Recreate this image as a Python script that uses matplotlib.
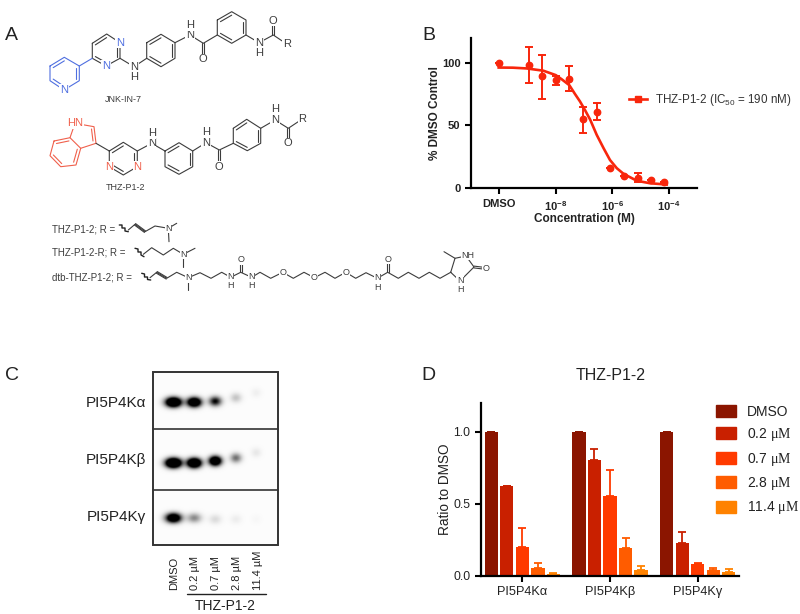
import numpy as np
import matplotlib
matplotlib.use("Agg")
import matplotlib.pyplot as plt
from matplotlib.lines import Line2D
from matplotlib.patches import Patch, Rectangle

plt.rcParams['font.family'] = ['Liberation Sans', 'DejaVu Sans']
plt.rcParams['mathtext.fontset'] = 'custom'
plt.rcParams['mathtext.rm'] = 'Liberation Sans'
plt.rcParams['mathtext.bf'] = 'Liberation Sans:bold'
plt.rcParams['mathtext.it'] = 'Liberation Serif'
plt.rcParams['mathtext.default'] = 'regular'

# panel B
dose_exp = [-10, -8.96, -8.47, -8, -7.52, -7.04, -6.55, -6.07, -5.6, -5.1, -4.64, -4.16]
dose_mean = [100, 98, 89, 86, 87, 55, 61, 16, 9.5, 8, 6.5, 5]
dose_low = [100, 84, 71, 82, 77, 44, 54, 16, 9.5, 5, 6.5, 5]
dose_high = [100, 112, 106, 89, 97, 65, 68, 16, 9.5, 12, 6.5, 5]
curve_exp = [-10.02, -9.52, -9.03, -8.44, -8, -7.79, -7.52, -7.32, -7.14, -6.96, -6.78,
             -6.55, -6.31, -6.08, -5.84, -5.6, -5.13, -4.66, -4.07]
curve_val = [96, 95.9, 95.3, 93.5, 90, 86.7, 82, 75, 69, 62, 54.5,
             42.5, 32, 22.5, 16, 11.5, 6, 4, 3]

# panel C
lane_names = ['DMSO', '0.2 µM', '0.7 µM', '2.8 µM', '11.4 µM']
blot_names = ['PI5P4Kα', 'PI5P4Kβ', 'PI5P4Kγ']
blot_dark = [[2.2, 1.9, 1.0, 0.22, 0.05],
             [2.4, 2.2, 1.9, 0.55, 0.08],
             [1.7, 0.45, 0.13, 0.06, 0.02]]

# panel D
kinases = ['PI5P4Kα', 'PI5P4Kβ', 'PI5P4Kγ']
conc_labels = ['DMSO', r'0.2 $\mathit{\mu M}$', r'0.7 $\mathit{\mu M}$',
               r'2.8 $\mathit{\mu M}$', r'11.4 $\mathit{\mu M}$']
conc_colors = ['#8B1500', '#C92000', '#FF3A00', '#FF5C00', '#FF8200']
ratio_means = [[1.0, 1.0, 1.0],
               [0.62, 0.80, 0.225],
               [0.20, 0.555, 0.08],
               [0.05, 0.195, 0.04],
               [0.015, 0.04, 0.025]]
ratio_errs = [[0, 0, 0],
              [0.005, 0.08, 0.075],
              [0.13, 0.175, 0.01],
              [0.035, 0.065, 0.015],
              [0.002, 0.025, 0.02]]

W, H = 800, 614
fig = plt.figure(figsize=(8, 6.14), dpi=100)


def px_axes(l, t, r, b):
    return fig.add_axes([l / W, 1 - b / H, (r - l) / W, (b - t) / H])


# overlay in image pixels for the drawn panels
ov = fig.add_axes([0, 0, 1, 1])
ov.axis('off')

GREY = '#3c3c3c'
BLUE = '#4f6fe0'
RED = '#f0604c'


def chain(pts, c=GREY, lw=0.8):
    xs, ys = zip(*pts)
    ov.plot(xs, ys, color=c, lw=lw, solid_capstyle='round', zorder=2)


def ring(pts, doubles, c=GREY):
    chain(list(pts) + [pts[0]], c)
    cx = np.mean([p[0] for p in pts])
    cy = np.mean([p[1] for p in pts])
    for i in doubles:
        a, b = pts[i], pts[(i + 1) % len(pts)]
        a2 = (cx + (a[0] - cx) * 0.78, cy + (a[1] - cy) * 0.78)
        b2 = (cx + (b[0] - cx) * 0.78, cy + (b[1] - cy) * 0.78)
        chain([a2, b2], c)


def dbl(a, b, c=GREY, off=1.1):
    dx, dy = b[0] - a[0], b[1] - a[1]
    n = np.hypot(dx, dy)
    ox, oy = -dy / n * off, dx / n * off
    chain([(a[0] + ox, a[1] + oy), (b[0] + ox, b[1] + oy)], c)
    chain([(a[0] - ox, a[1] - oy), (b[0] - ox, b[1] - oy)], c)


def atom(x, y, s, c=GREY, size=8):
    ov.text(x, y, s, color=c, fontsize=size, ha='center', va='center', zorder=3,
            bbox=dict(facecolor='white', edgecolor='none', pad=0.4))


# JNK-IN-7
ring([(50, 66), (64.3, 57.3), (79.3, 66), (79.3, 80.7), (64, 90), (50, 80.7)], [0, 2, 4], BLUE)
atom(64, 90, 'N', BLUE)
ring([(92.3, 43.3), (106.7, 34), (120, 42.7), (120, 58.3), (106, 66), (92.3, 58.3)], [0, 2, 4])
atom(120, 42.7, 'N', BLUE)
atom(106, 66, 'N', BLUE)
chain([(79.3, 66), (92.3, 58.3)], BLUE)
chain([(120, 58.3), (134, 66.7), (146.7, 58.3)])
atom(134, 66.7, 'N')
atom(134, 76.5, 'H')
ring([(146.7, 42.7), (161, 34.3), (175, 42.7), (175, 58.3), (161, 66.7), (146.7, 58.3)], [0, 2, 4])
chain([(175, 42.7), (190, 35), (203.3, 43.3), (217.3, 35)])
atom(190, 35, 'N')
atom(190, 25, 'H')
dbl((203.3, 43.3), (203.3, 56))
atom(203.3, 59.5, 'O')
ring([(217.3, 20), (231.7, 11.7), (246, 20), (246, 35), (231.7, 43.3), (217.3, 35)], [0, 2, 4])
chain([(246, 35), (259, 42.7), (273.3, 35), (286.7, 44)])
atom(259, 42.7, 'N')
atom(259, 53, 'H')
dbl((273.3, 35), (273.3, 24))
atom(273.3, 20.5, 'O')
atom(286.7, 44.3, 'R')
ov.text(123.3, 99.3, 'JNK-IN-7', fontsize=6.5, color=GREY, ha='center', va='center')

# THZ-P1-2
ring([(54, 141), (70, 137.7), (80.7, 148.3), (76, 165), (60.7, 166.7), (50, 155.7)], [0, 2, 4], RED)
chain([(70, 137.7), (75, 123.3), (94, 126.7), (96, 143.3), (80.7, 148.3)], RED)
chain([(91.5, 129), (93, 141)], RED)
atom(75, 123.3, 'HN', RED)
chain([(96, 143.3), (109.3, 151)])
ring([(109.3, 151), (123.3, 142.3), (137.3, 151), (137.3, 166.7), (123.3, 175), (109.3, 166.7)], [0, 2, 4])
atom(137.3, 166.7, 'N', RED)
atom(109.3, 166.7, 'N', RED)
chain([(137.3, 151), (151.7, 143.3), (165, 151)])
atom(151.7, 143.3, 'N')
atom(151.7, 133.3, 'H')
ring([(165, 151), (179, 142.7), (192.7, 151), (192.7, 166.7), (179, 174.3), (165, 166.7)], [0, 2, 4])
chain([(192.7, 151), (206, 142.7), (219.3, 150), (233.3, 143.3)])
atom(206, 142.7, 'N')
atom(206, 132.3, 'H')
dbl((219.3, 150), (219.3, 163))
atom(219.3, 166.7, 'O')
ring([(233.3, 128.3), (246.7, 119.3), (260.7, 128.3), (260.7, 143.3), (247.3, 150.7), (233.3, 143.3)], [0, 2, 4])
chain([(260.7, 128.3), (275, 120), (288.3, 128.3), (302.3, 119)])
atom(275, 120, 'N')
atom(275, 109.3, 'H')
dbl((288.3, 128.3), (288.3, 140))
atom(288.3, 143.3, 'O')
atom(302.3, 119, 'R')
ov.text(125, 188, 'THZ-P1-2', fontsize=6.5, color=GREY, ha='center', va='center')

# R groups
ov.text(52, 229, 'THZ-P1-2; R =', fontsize=7, color=GREY, va='center')
ov.text(52, 252.7, 'THZ-P1-2-R; R =', fontsize=7, color=GREY, va='center')
ov.text(52, 277.7, 'dtb-THZ-P1-2; R =', fontsize=7, color=GREY, va='center')

chain([(119.3, 225), (122, 225), (122, 228), (125, 228), (125, 231), (128.3, 231.7)], '#222222', 1.0)
chain([(128.3, 230), (135, 224.3), (145, 231.7), (155, 226), (168.3, 228.3), (176.7, 223.3)])
dbl((135, 224.3), (145, 231.7), off=0.9)
chain([(168.3, 228.3), (169, 241.7)])
atom(168.3, 228.3, 'N', size=6.5)

chain([(135, 248.3), (138, 249), (138, 252), (141, 252), (141, 255), (144, 256.7)], '#222222', 1.0)
chain([(143.3, 254.3), (151.7, 247.7), (163.3, 255), (173.3, 248.3), (183.3, 254.3), (195, 248.3)])
chain([(183.3, 254.3), (183.3, 266.7)])
atom(183.3, 254.3, 'N', size=6.5)

chain([(141.7, 273.3), (144.5, 274), (144.5, 277), (147.5, 277), (147.5, 279.5), (150.7, 280)], '#222222', 1.0)
chain([(150, 277.7), (156.7, 272.3), (166.7, 278.3), (176.7, 272.3), (188.3, 277.7), (200, 272.7),
       (211, 278.3), (221.7, 272.3), (230.7, 277.3), (240.7, 272.3), (251.7, 277.3), (260, 272.3),
       (270.7, 278.3), (282.7, 272.3), (293.3, 278.3), (304, 272.3), (314.3, 277.7), (325, 272.3),
       (335, 278.3), (345.7, 272.3), (355.7, 278.3), (366, 272.7), (377.3, 278.3), (387.7, 272.3),
       (398.3, 278.3), (408.3, 272.3), (419, 278.3), (429.3, 272.3), (440, 278.3), (450.7, 272.3)])
dbl((156.7, 272.3), (166.7, 278.3), off=0.9)
chain([(188.3, 277.7), (188.3, 290)])
dbl((240.7, 272.3), (240.7, 263), off=0.9)
dbl((387.7, 272.3), (387.7, 263), off=0.9)
for ax_, ay_, s_ in [(188.3, 277.7, 'N'), (230.7, 276.5, 'N'), (230.7, 286, 'H'), (251.7, 276.5, 'N'),
                     (251.7, 286, 'H'), (240.7, 260, 'O'), (282.7, 272.3, 'O'), (314.3, 277.7, 'O'),
                     (345.7, 272.3, 'O'), (377.3, 277.5, 'N'), (377.3, 287, 'H'), (387.7, 259.3, 'O')]:
    atom(ax_, ay_, s_, size=6.5)
chain([(450.7, 272.3), (455, 258.3), (466, 256), (474, 267), (460, 281), (450.7, 272.3)])
chain([(455, 258.3), (444, 251.7)])
dbl((474, 267), (482, 268), off=0.9)
atom(468, 255, 'NH', size=6.5)
atom(460, 280.5, 'N', size=6.5)
atom(460, 290, 'H', size=6.5)
atom(486, 268.5, 'O', size=6.5)

# panel C blot
lane_x = [173.3, 194, 215, 235.7, 256]
row_y = [[402, 402, 401, 397.5, 392.5],
         [462.7, 462.7, 460.7, 457.7, 452.3],
         [517.7, 517.7, 519, 519, 519]]
spot_w = [7.5, 6.8, 6, 5.5, 5]
gx, gy = np.meshgrid(np.arange(153, 278, 0.5), np.arange(372, 545, 0.5))
blot = np.full(gx.shape, 0.012)
for r in range(3):
    for k in range(5):
        blot += blot_dark[r][k] * np.exp(-((gx - lane_x[k]) / spot_w[k]) ** 2 - ((gy - row_y[r][k]) / 4.6) ** 2)
ov.imshow(np.clip(blot, 0, 1), cmap='gray_r', vmin=0, vmax=1, extent=(153.3, 277.7, 545, 372.3),
          aspect='auto', zorder=1, interpolation='bilinear')
ov.add_patch(Rectangle((153.3, 372.3), 124.4, 172.7, fill=False, ec='#333333', lw=1.4, zorder=3))
chain([(153.3, 428.7), (277.7, 428.7)], '#333333', 1.2)
chain([(153.3, 489.7), (277.7, 489.7)], '#333333', 1.2)
for name, yy in zip(blot_names, [402.7, 460, 516.7]):
    ov.text(145.7, yy, name, fontsize=11, color='#222222', ha='right', va='center')
for name, xx in zip(lane_names, [174, 195, 216, 237, 257.7]):
    ov.text(xx, 590, name, fontsize=8, color='#222222', rotation=90, ha='center', va='bottom')
chain([(187.3, 594.3), (266, 594.3)], '#222222', 1.0)
ov.text(225, 606.5, 'THZ-P1-2', fontsize=10, color='#222222', ha='center', va='center')

# panel letters
for s, xx, yy in [('A', 11, 35), ('B', 428.7, 35), ('C', 11.7, 375), ('D', 428, 375)]:
    ov.text(xx, yy, s, fontsize=14, color='#222222', ha='center', va='center')

ov.set_xlim(0, W)
ov.set_ylim(H, 0)

# panel B
red = '#F8260C'
axb = px_axes(471, 38, 697, 188.3)
axb.patch.set_alpha(0)
dose = 10.0 ** np.array(dose_exp)
axb.plot(10.0 ** np.array(curve_exp), curve_val, color=red, lw=1.9, zorder=3)
axb.errorbar(dose, dose_mean,
             yerr=[np.array(dose_mean) - np.array(dose_low), np.array(dose_high) - np.array(dose_mean)],
             fmt='o', color=red, ms=4.6, elinewidth=1.4, capsize=3, capthick=1.4, zorder=4)
axb.set_xscale('log')
axb.set_xlim(1e-11, 1e-3)
axb.set_ylim(0, 119.5)
axb.set_xticks([1e-10, 1e-8, 1e-6, 1e-4])
axb.set_xticklabels(['DMSO', r'$\mathbf{10^{-8}}$', r'$\mathbf{10^{-6}}$', r'$\mathbf{10^{-4}}$'],
                    fontsize=8, fontweight='bold', color='#222222')
axb.minorticks_off()
axb.set_yticks([0, 50, 100])
axb.set_yticklabels(['0', '50', '100'], fontsize=8, fontweight='bold', color='#222222')
axb.set_ylabel('% DMSO Control', fontsize=8.5, fontweight='bold', color='#222222', labelpad=0.5)
axb.set_xlabel('Concentration (M)', fontsize=8.5, fontweight='bold', color='#222222', labelpad=0)
axb.spines[['top', 'right']].set_visible(False)
axb.spines[['left', 'bottom']].set_linewidth(1.6)
axb.tick_params(width=1.5, length=4.5, pad=3)
handle = Line2D([], [], color=red, lw=1.9, marker='s', ms=4)
axb.legend([handle], ['THZ-P1-2 (IC$_{50}$ = 190 nM)'], loc='center left', bbox_to_anchor=(629, 100),
           bbox_transform=ov.transData, frameon=False, fontsize=8.4, handlelength=1.5,
           handletextpad=0.7, borderpad=0, borderaxespad=0, labelcolor='#333333')

# panel D
axd = px_axes(481, 402.7, 739.3, 575.7)
axd.patch.set_alpha(0)
group_x = np.arange(len(kinases))
for i in range(len(conc_labels)):
    xs = group_x + (i - 2) * 0.177
    axd.bar(xs, ratio_means[i], width=0.152, color=conc_colors[i], label=conc_labels[i], zorder=2)
    axd.errorbar(xs, ratio_means[i], yerr=[np.zeros(3), ratio_errs[i]], fmt='none',
                 ecolor=conc_colors[i], elinewidth=1.3, capsize=2.8, capthick=1.3, zorder=1)
axd.set_xlim(-0.471, 2.474)
axd.set_ylim(0, 1.2)
axd.set_xticks(group_x)
axd.set_xticklabels(kinases, fontsize=9.2, color='#222222')
axd.set_yticks([0, 0.5, 1.0])
axd.set_yticklabels(['0.0', '0.5', '1.0'], fontsize=8.8, color='#222222')
axd.set_ylabel('Ratio to DMSO', fontsize=9.8, color='#222222', labelpad=1)
axd.spines[['top', 'right']].set_visible(False)
axd.spines[['left', 'bottom']].set_linewidth(1.6)
axd.tick_params(width=1.5, length=4.5, pad=3)
ov.text(610.7, 375.7, 'THZ-P1-2', fontsize=11.5, color='#222222', ha='center', va='center')
axd.legend([Patch(color=c) for c in conc_colors], conc_labels, loc='upper left', bbox_to_anchor=(716, 404.5),
           bbox_transform=ov.transData, frameon=False, fontsize=10, handlelength=1.45, handleheight=0.95,
           labelspacing=0.54, handletextpad=0.8, borderpad=0, borderaxespad=0, labelcolor='#222222')

fig.savefig('out.png', dpi=100)
